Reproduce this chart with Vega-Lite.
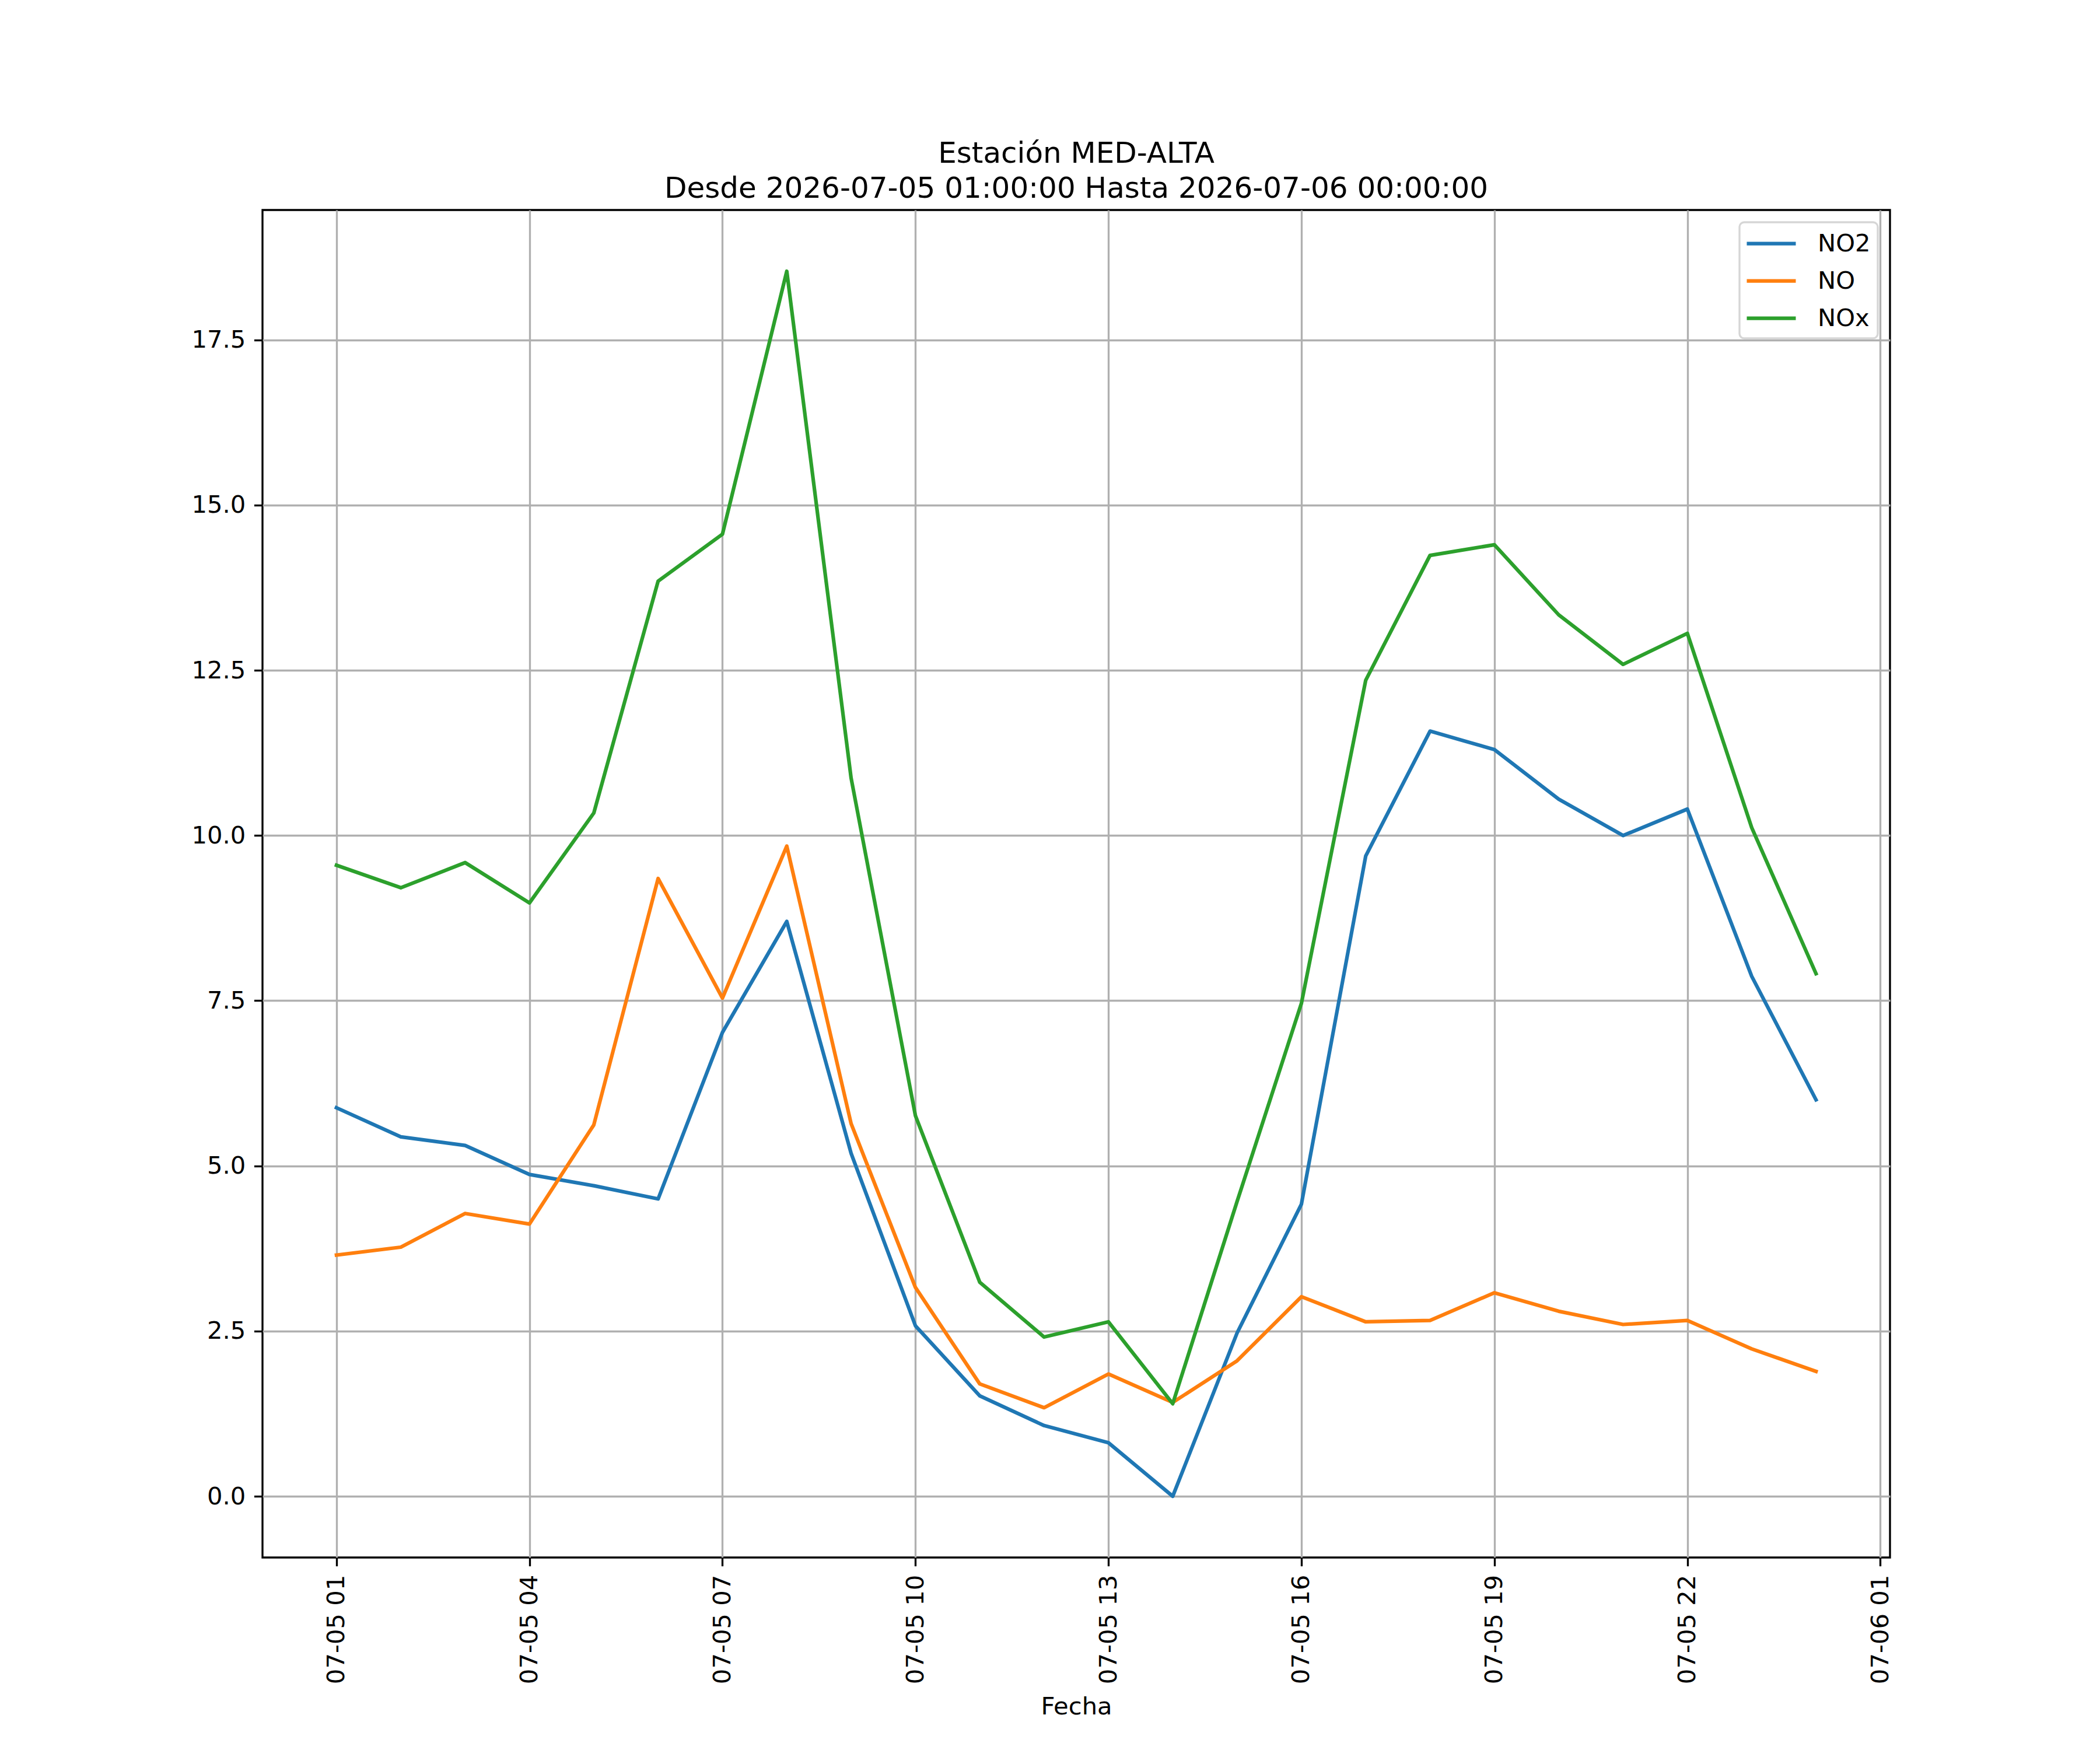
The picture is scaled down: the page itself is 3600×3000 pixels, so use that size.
{
  "$schema": "https://vega.github.io/schema/vega-lite/v6.json",
  "width": 2790,
  "height": 2310,
  "autosize": {"type": "none"},
  "padding": {"left": 450, "top": 360, "right": 360, "bottom": 330},
  "background": "white",
  "config": {
    "font": "DejaVu Sans",
    "view": {"stroke": "black", "strokeWidth": 3.33},
    "axis": {
      "labelFont": "DejaVu Sans",
      "labelFontSize": 41.7,
      "labelColor": "black",
      "labelLimit": 0,
      "titleFont": "DejaVu Sans",
      "titleFontSize": 41.7,
      "titleFontWeight": "normal",
      "titleColor": "black",
      "tickColor": "black",
      "tickSize": 14.6,
      "tickWidth": 3.33,
      "labelPadding": 14.6,
      "domain": false,
      "grid": true,
      "gridColor": "#b0b0b0",
      "gridWidth": 3.33
    }
  },
  "title": {
    "text": ["Estación MED-ALTA", "Desde 2026-07-05 01:00:00 Hasta 2026-07-06 00:00:00"],
    "font": "DejaVu Sans",
    "fontSize": 50,
    "fontWeight": "normal",
    "color": "black",
    "anchor": "middle",
    "lineHeight": 60,
    "offset": 11
  },
  "data": {
    "values": [
      {"fecha": "2026-07-05T01:00:00", "serie": "NO2", "valor": 5.88},
      {"fecha": "2026-07-05T02:00:00", "serie": "NO2", "valor": 5.44},
      {"fecha": "2026-07-05T03:00:00", "serie": "NO2", "valor": 5.31},
      {"fecha": "2026-07-05T04:00:00", "serie": "NO2", "valor": 4.87},
      {"fecha": "2026-07-05T05:00:00", "serie": "NO2", "valor": 4.70},
      {"fecha": "2026-07-05T06:00:00", "serie": "NO2", "valor": 4.50},
      {"fecha": "2026-07-05T07:00:00", "serie": "NO2", "valor": 7.02},
      {"fecha": "2026-07-05T08:00:00", "serie": "NO2", "valor": 8.70},
      {"fecha": "2026-07-05T09:00:00", "serie": "NO2", "valor": 5.19},
      {"fecha": "2026-07-05T10:00:00", "serie": "NO2", "valor": 2.58},
      {"fecha": "2026-07-05T11:00:00", "serie": "NO2", "valor": 1.52},
      {"fecha": "2026-07-05T12:00:00", "serie": "NO2", "valor": 1.07},
      {"fecha": "2026-07-05T13:00:00", "serie": "NO2", "valor": 0.81},
      {"fecha": "2026-07-05T14:00:00", "serie": "NO2", "valor": 0.0},
      {"fecha": "2026-07-05T15:00:00", "serie": "NO2", "valor": 2.47},
      {"fecha": "2026-07-05T16:00:00", "serie": "NO2", "valor": 4.42},
      {"fecha": "2026-07-05T17:00:00", "serie": "NO2", "valor": 9.69},
      {"fecha": "2026-07-05T18:00:00", "serie": "NO2", "valor": 11.58},
      {"fecha": "2026-07-05T19:00:00", "serie": "NO2", "valor": 11.30},
      {"fecha": "2026-07-05T20:00:00", "serie": "NO2", "valor": 10.55},
      {"fecha": "2026-07-05T21:00:00", "serie": "NO2", "valor": 10.00},
      {"fecha": "2026-07-05T22:00:00", "serie": "NO2", "valor": 10.40},
      {"fecha": "2026-07-05T23:00:00", "serie": "NO2", "valor": 7.87},
      {"fecha": "2026-07-06T00:00:00", "serie": "NO2", "valor": 6.00},
      {"fecha": "2026-07-05T01:00:00", "serie": "NO", "valor": 3.65},
      {"fecha": "2026-07-05T02:00:00", "serie": "NO", "valor": 3.77},
      {"fecha": "2026-07-05T03:00:00", "serie": "NO", "valor": 4.28},
      {"fecha": "2026-07-05T04:00:00", "serie": "NO", "valor": 4.12},
      {"fecha": "2026-07-05T05:00:00", "serie": "NO", "valor": 5.62},
      {"fecha": "2026-07-05T06:00:00", "serie": "NO", "valor": 9.35},
      {"fecha": "2026-07-05T07:00:00", "serie": "NO", "valor": 7.54},
      {"fecha": "2026-07-05T08:00:00", "serie": "NO", "valor": 9.84},
      {"fecha": "2026-07-05T09:00:00", "serie": "NO", "valor": 5.64},
      {"fecha": "2026-07-05T10:00:00", "serie": "NO", "valor": 3.16},
      {"fecha": "2026-07-05T11:00:00", "serie": "NO", "valor": 1.70},
      {"fecha": "2026-07-05T12:00:00", "serie": "NO", "valor": 1.34},
      {"fecha": "2026-07-05T13:00:00", "serie": "NO", "valor": 1.85},
      {"fecha": "2026-07-05T14:00:00", "serie": "NO", "valor": 1.42},
      {"fecha": "2026-07-05T15:00:00", "serie": "NO", "valor": 2.05},
      {"fecha": "2026-07-05T16:00:00", "serie": "NO", "valor": 3.02},
      {"fecha": "2026-07-05T17:00:00", "serie": "NO", "valor": 2.64},
      {"fecha": "2026-07-05T18:00:00", "serie": "NO", "valor": 2.66},
      {"fecha": "2026-07-05T19:00:00", "serie": "NO", "valor": 3.08},
      {"fecha": "2026-07-05T20:00:00", "serie": "NO", "valor": 2.80},
      {"fecha": "2026-07-05T21:00:00", "serie": "NO", "valor": 2.60},
      {"fecha": "2026-07-05T22:00:00", "serie": "NO", "valor": 2.66},
      {"fecha": "2026-07-05T23:00:00", "serie": "NO", "valor": 2.23},
      {"fecha": "2026-07-06T00:00:00", "serie": "NO", "valor": 1.89},
      {"fecha": "2026-07-05T01:00:00", "serie": "NOx", "valor": 9.55},
      {"fecha": "2026-07-05T02:00:00", "serie": "NOx", "valor": 9.21},
      {"fecha": "2026-07-05T03:00:00", "serie": "NOx", "valor": 9.59},
      {"fecha": "2026-07-05T04:00:00", "serie": "NOx", "valor": 8.98},
      {"fecha": "2026-07-05T05:00:00", "serie": "NOx", "valor": 10.34},
      {"fecha": "2026-07-05T06:00:00", "serie": "NOx", "valor": 13.85},
      {"fecha": "2026-07-05T07:00:00", "serie": "NOx", "valor": 14.56},
      {"fecha": "2026-07-05T08:00:00", "serie": "NOx", "valor": 18.54},
      {"fecha": "2026-07-05T09:00:00", "serie": "NOx", "valor": 10.87},
      {"fecha": "2026-07-05T10:00:00", "serie": "NOx", "valor": 5.76},
      {"fecha": "2026-07-05T11:00:00", "serie": "NOx", "valor": 3.24},
      {"fecha": "2026-07-05T12:00:00", "serie": "NOx", "valor": 2.41},
      {"fecha": "2026-07-05T13:00:00", "serie": "NOx", "valor": 2.64},
      {"fecha": "2026-07-05T14:00:00", "serie": "NOx", "valor": 1.40},
      {"fecha": "2026-07-05T15:00:00", "serie": "NOx", "valor": 4.46},
      {"fecha": "2026-07-05T16:00:00", "serie": "NOx", "valor": 7.46},
      {"fecha": "2026-07-05T17:00:00", "serie": "NOx", "valor": 12.35},
      {"fecha": "2026-07-05T18:00:00", "serie": "NOx", "valor": 14.24},
      {"fecha": "2026-07-05T19:00:00", "serie": "NOx", "valor": 14.40},
      {"fecha": "2026-07-05T20:00:00", "serie": "NOx", "valor": 13.34},
      {"fecha": "2026-07-05T21:00:00", "serie": "NOx", "valor": 12.59},
      {"fecha": "2026-07-05T22:00:00", "serie": "NOx", "valor": 13.06},
      {"fecha": "2026-07-05T23:00:00", "serie": "NOx", "valor": 10.12},
      {"fecha": "2026-07-06T00:00:00", "serie": "NOx", "valor": 7.91}
    ]
  },
  "mark": {"type": "line", "strokeWidth": 6.25, "strokeJoin": "round", "strokeCap": "square", "clip": true},
  "encoding": {
    "x": {
      "field": "fecha",
      "type": "temporal",
      "title": "Fecha",
      "scale": {
        "domain": [
          {"year": 2026, "month": 7, "date": 4, "hours": 23, "minutes": 51},
          {"year": 2026, "month": 7, "date": 6, "hours": 1, "minutes": 9}
        ],
        "nice": false
      },
      "axis": {
        "format": "%m-%d %H",
        "labelAngle": -90,
        "titlePadding": 35,
        "values": [
          {"year": 2026, "month": 7, "date": 5, "hours": 1},
          {"year": 2026, "month": 7, "date": 5, "hours": 4},
          {"year": 2026, "month": 7, "date": 5, "hours": 7},
          {"year": 2026, "month": 7, "date": 5, "hours": 10},
          {"year": 2026, "month": 7, "date": 5, "hours": 13},
          {"year": 2026, "month": 7, "date": 5, "hours": 16},
          {"year": 2026, "month": 7, "date": 5, "hours": 19},
          {"year": 2026, "month": 7, "date": 5, "hours": 22},
          {"year": 2026, "month": 7, "date": 6, "hours": 1}
        ]
      }
    },
    "y": {
      "field": "valor",
      "type": "quantitative",
      "title": null,
      "scale": {"domain": [-0.927, 19.467], "nice": false, "zero": false},
      "axis": {
        "format": ".1f",
        "values": [0, 2.5, 5, 7.5, 10, 12.5, 15, 17.5]
      }
    },
    "color": {
      "field": "serie",
      "type": "nominal",
      "sort": ["NO2", "NO", "NOx"],
      "scale": {"domain": ["NO2", "NO", "NOx"], "range": ["#1f77b4", "#ff7f0e", "#2ca02c"]},
      "legend": {
        "title": null,
        "orient": "top-right",
        "offset": 21,
        "padding": 12,
        "fillColor": "white",
        "strokeColor": "#d6d6d6",
        "cornerRadius": 8,
        "symbolType": "M-2,0H2",
        "symbolSize": 1764,
        "symbolOffset": 18,
        "symbolStrokeWidth": 6.25,
        "labelFont": "DejaVu Sans",
        "labelFontSize": 41.7,
        "labelColor": "black",
        "labelOffset": 55,
        "rowPadding": 17,
        "encode": {"legend": {"update": {"strokeWidth": {"value": 3.33}}}}
      }
    }
  }
}
